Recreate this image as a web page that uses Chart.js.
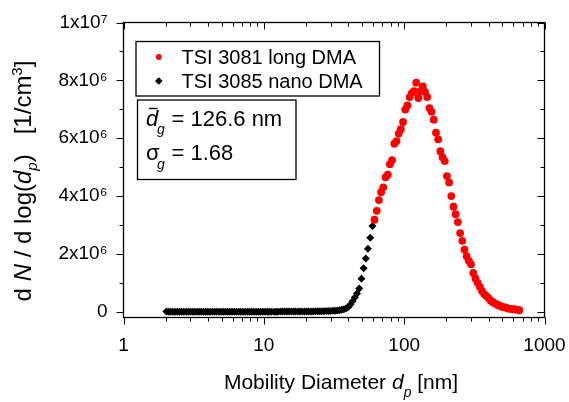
<!DOCTYPE html>
<html>
<head>
<meta charset="utf-8">
<script src="https://cdn.jsdelivr.net/npm/chart.js@4/dist/chart.umd.min.js"></script>
<style>
  html, body { margin: 0; padding: 0; background: #fff; }
  #wrap { width: 569px; height: 402px; }
</style>
</head>
<body>
<div id="wrap"><canvas id="chart" width="569" height="402"></canvas></div>
<script>
// Mobility diameters [nm] of the nano DMA scan (64 channels per decade)
const nanoDiameters = [
  2.02, 2.09, 2.17, 2.25, 2.33, 2.42, 2.50, 2.59, 2.69, 2.79, 2.89, 3.00, 3.11, 3.22, 3.34, 3.46,
  3.59, 3.72, 3.85, 3.99, 4.14, 4.29, 4.45, 4.61, 4.78, 4.96, 5.14, 5.33, 5.52, 5.72, 5.93, 6.15,
  6.38, 6.61, 6.85, 7.10, 7.37, 7.64, 7.91, 8.20, 8.51, 8.82, 9.14, 9.47, 9.82, 10.2, 10.6, 10.9,
  11.3, 11.8, 12.2, 12.6, 13.1, 13.6, 14.1, 14.6, 15.1, 15.7, 16.3, 16.8, 17.5, 18.1, 18.8, 19.5,
  20.2, 20.9, 21.7, 22.5, 23.3, 24.1, 25.0, 25.9, 26.9, 27.9, 28.9, 30.0, 31.1, 32.2, 33.4, 34.6,
  35.9, 37.2, 38.5, 40.0, 41.4, 42.9, 44.5, 46.1, 47.8, 49.6, 51.4, 53.3, 55.2, 57.3, 59.4
];
// dN/dlog(dp) [1/cm3] measured with the nano DMA
const nanoCounts = [
  3200, 2100, 1500, 2600, 1800, 1200, 2300, 900, 1700, 1100, 1900, 800, 1400, 1000, 1600, 700,
  1200, 900, 1300, 600, 1100, 800, 1000, 700, 1200, 900, 1100, 800, 1300, 1000, 1200, 900,
  1400, 1100, 1300, 1200, 1500, 1300, 1600, 1400, 1700, 1600, 1900, 1800, 2100, 2000, 2300, 2200,
  2600, 2500, 2900, 2800, 3200, 3300, 3600, 3800, 4100, 4400, 4800, 5200, 5700, 6300, 6900, 7600,
  8400, 9300, 10300, 11500, 12800, 14300, 16000, 18000, 20000, 22500, 25000, 28000, 32000, 37000, 43000, 52000,
  64000, 82000, 110000, 160000, 250000, 360000, 490000, 630000, 800000, 1140000, 1500000, 1840000, 2180000, 2560000, 2960000
];
// Mobility diameters [nm] of the long DMA scan
const longDiameters = [
  61.5, 63.8, 66.1, 68.5, 71.0, 73.7, 76.4, 79.1, 82.0, 85.1, 88.2, 91.4, 94.7, 98.2, 101.8, 105.5,
  109.4, 113.4, 117.6, 121.9, 126.3, 131.0, 135.8, 140.7, 145.9, 151.2, 156.8, 162.5, 168.5, 174.7, 181.1, 187.7,
  194.6, 201.7, 209.1, 216.7, 224.7, 232.9, 241.4, 250.3, 259.5, 269.0, 278.8, 289.0, 299.6, 310.6, 322.0, 333.8,
  346.0, 358.7, 371.8, 385.4, 399.5, 414.2, 429.4, 445.1, 461.4, 478.3, 495.8, 514.0, 532.8, 552.3, 572.5, 593.5,
  615.3, 637.8, 661.2
];
// dN/dlog(dp) [1/cm3] measured with the long DMA
const longCounts = [
  3.18e6, 3.49e6, 3.86e6, 4.13e6, 4.30e6, 4.65e6, 4.74e6, 5.10e6, 5.24e6, 5.81e6, 5.90e6, 6.16e6, 6.31e6, 6.56e6, 6.99e6, 7.13e6,
  7.42e6, 7.56e6, 7.63e6, 7.92e6, 7.39e6, 7.63e6, 7.79e6, 7.60e6, 7.42e6, 7.04e6, 6.91e6, 6.64e6, 6.19e6, 5.96e6, 5.55e6, 5.34e6,
  5.21e6, 4.69e6, 4.47e6, 4.00e6, 3.63e6, 3.37e6, 3.10e6, 2.72e6, 2.45e6, 2.15e6, 1.92e6, 1.76e6, 1.64e6, 1.34e6, 1.15e6, 1.00e6,
  0.86e6, 0.72e6, 0.61e6, 0.54e6, 0.47e6, 0.38e6, 0.33e6, 0.28e6, 0.24e6, 0.21e6, 0.17e6, 0.16e6, 0.14e6, 0.11e6, 0.10e6, 0.09e6,
  0.08e6, 0.07e6, 0.05e6
];

// Axis ticks
const xAllTicks = [1,2,3,4,5,6,7,8,9,10,20,30,40,50,60,70,80,90,100,200,300,400,500,600,700,800,900,1000];
const xMajorTicks = [1, 10, 100, 1000];
const xTickLabels = ['1', '10', '100', '1000'];
const yAllTicks = [0, 1e6, 2e6, 3e6, 4e6, 5e6, 6e6, 7e6, 8e6, 9e6, 1e7];
const yMajorTicks = [0, 2e6, 4e6, 6e6, 8e6, 1e7];
const yTickLabels = ['0', '2x10\u2076', '4x10\u2076', '6x10\u2076', '8x10\u2076', '1x10\u2077'];

// Fit parameters of the log-normal distribution
const geoMeanDiameter = '126.6';
const geoStdDev = '1.68';

const FONT = '"Liberation Sans", Arial, Helvetica, sans-serif';

function drawRuns(ctx, x, y, parts) {
  for (const p of parts) {
    ctx.font = (p.italic ? 'italic ' : '') + p.size + 'px ' + FONT;
    ctx.fillText(p.text, x, y + (p.dy || 0));
    x += ctx.measureText(p.text).width;
  }
  return x;
}
function runsWidth(ctx, parts) {
  let w = 0;
  for (const p of parts) {
    ctx.font = (p.italic ? 'italic ' : '') + p.size + 'px ' + FONT;
    w += ctx.measureText(p.text).width;
  }
  return w;
}

const decorations = {
  id: 'decorations',
  beforeDatasetsDraw(chart) {
    const { ctx, chartArea: a, scales: { x, y } } = chart;
    ctx.save();
    ctx.strokeStyle = '#000';
    ctx.lineWidth = 1;
    ctx.beginPath();
    for (const t of x.ticks) {
      const px = Math.round(x.getPixelForValue(t.value)) + 0.5;
      const len = xMajorTicks.includes(t.value) ? 7 : 4;
      ctx.moveTo(px, a.bottom); ctx.lineTo(px, a.bottom + len);
      ctx.moveTo(px, a.top); ctx.lineTo(px, a.top + len);
    }
    for (const t of y.ticks) {
      const py = Math.round(y.getPixelForValue(t.value)) + 0.5;
      const len = yMajorTicks.includes(t.value) ? 7 : 4;
      ctx.moveTo(a.left, py); ctx.lineTo(a.left - len, py);
      ctx.moveTo(a.right, py); ctx.lineTo(a.right - len, py);
    }
    ctx.stroke();
    ctx.lineWidth = 1.3;
    ctx.strokeRect(a.left, a.top, a.right - a.left, a.bottom - a.top);
    ctx.restore();
  },
  afterDatasetsDraw(chart) {
    const { ctx } = chart;
    ctx.save();
    ctx.fillStyle = '#000';
    ctx.strokeStyle = '#000';
    ctx.textBaseline = 'alphabetic';
    ctx.textAlign = 'left';

    // x axis title
    const xt = [
      { text: 'Mobility Diameter ', size: 21 },
      { text: 'd', size: 21, italic: true },
      { text: 'p', size: 14, italic: true, dy: 8 },
      { text: ' [nm]', size: 21 }
    ];
    const xw = runsWidth(ctx, xt);
    drawRuns(ctx, 341 - xw / 2, 389, xt);

    // y axis title (rotated)
    const yt = [
      { text: 'd ', size: 24 },
      { text: 'N', size: 24, italic: true },
      { text: ' / d log(', size: 24 },
      { text: 'd', size: 24, italic: true },
      { text: 'p', size: 15, italic: true, dy: 6 },
      { text: ')   [1/cm', size: 24 },
      { text: '3', size: 15, dy: -9 },
      { text: ']', size: 24 }
    ];
    const yw = runsWidth(ctx, yt);
    ctx.save();
    ctx.translate(31, 181);
    ctx.rotate(-Math.PI / 2);
    drawRuns(ctx, -yw / 2, 0, yt);
    ctx.restore();

    // legend
    ctx.lineWidth = 1.3;
    ctx.fillStyle = '#fff';
    ctx.fillRect(136, 41.5, 243.5, 54.5);
    ctx.strokeRect(136, 41.5, 243.5, 54.5);
    const ds = chart.data.datasets;
    const rows = [57, 81];
    ds.forEach((d, i) => {
      ctx.fillStyle = d.backgroundColor;
      Chart.helpers.drawPoint(ctx, {
        pointStyle: d.pointStyle,
        radius: d.pointStyle === 'circle' ? 2.9 : 3.8,
        borderWidth: 0
      }, 158.8, rows[i]);
      ctx.fillStyle = '#000';
      ctx.font = '20px ' + FONT;
      ctx.fillText(d.label, 181.5, rows[i] + 7);
    });

    // fit results box
    ctx.fillStyle = '#fff';
    ctx.fillRect(137.5, 100, 158.5, 79.5);
    ctx.strokeRect(137.5, 100, 158.5, 79.5);
    ctx.fillStyle = '#000';
    ctx.font = 'italic 22px ' + FONT;
    ctx.fillText('d', 146, 126);
    ctx.lineWidth = 1.4;
    ctx.beginPath();
    ctx.moveTo(149, 108.5); ctx.lineTo(157.5, 108.5);
    ctx.stroke();
    ctx.font = 'italic 14px ' + FONT;
    ctx.fillText('g', 157, 134);
    ctx.font = '22px ' + FONT;
    ctx.fillText('= ' + geoMeanDiameter + ' nm', 171.5, 126);
    ctx.fillText('\u03C3', 146, 160);
    ctx.font = 'italic 14px ' + FONT;
    ctx.fillText('g', 157, 169);
    ctx.font = '22px ' + FONT;
    ctx.fillText('= ' + geoStdDev, 171.5, 160);
    ctx.restore();
  }
};

new Chart(document.getElementById('chart'), {
  type: 'scatter',
  data: {
    datasets: [
      {
        label: 'TSI 3081 long DMA',
        data: longDiameters.map((d, i) => ({ x: d, y: longCounts[i] })),
        pointStyle: 'circle',
        pointRadius: 3.9,
        pointHoverRadius: 3.9,
        pointBorderWidth: 0,
        backgroundColor: '#ff0000',
        borderColor: '#ff0000'
      },
      {
        label: 'TSI 3085 nano DMA',
        data: nanoDiameters.map((d, i) => ({ x: d, y: nanoCounts[i] })),
        pointStyle: 'rectRot',
        pointRadius: 4,
        pointHoverRadius: 4,
        pointBorderWidth: 0,
        backgroundColor: '#000000',
        borderColor: '#000000'
      }
    ]
  },
  options: {
    responsive: false,
    animation: false,
    devicePixelRatio: 1,
    layout: { padding: { top: 22.5, right: 24.5, left: 0, bottom: 0 } },
    plugins: { legend: { display: false }, tooltip: { enabled: false } },
    scales: {
      x: {
        type: 'logarithmic',
        min: 1,
        max: 1000,
        afterBuildTicks: s => { s.ticks = xAllTicks.map(v => ({ value: v })); },
        afterFit: s => { s.height = 84.5; s.paddingLeft = 0; s.paddingRight = 0; },
        grid: { display: false, drawTicks: false },
        border: { display: false },
        ticks: {
          autoSkip: false,
          maxRotation: 0,
          padding: 17,
          color: '#000',
          font: { family: FONT, size: 19 },
          callback: v => {
            const k = xMajorTicks.indexOf(v);
            return k >= 0 ? xTickLabels[k] : '';
          }
        }
      },
      y: {
        type: 'linear',
        min: -2e5,
        max: 1e7,
        afterBuildTicks: s => { s.ticks = yAllTicks.map(v => ({ value: v })); },
        afterFit: s => { s.width = 123.5; s.paddingTop = 0; s.paddingBottom = 0; },
        grid: { display: false, drawTicks: false },
        border: { display: false },
        ticks: {
          autoSkip: false,
          padding: 16,
          color: '#000',
          font: { family: FONT, size: 19 },
          callback: v => {
            const k = yMajorTicks.indexOf(v);
            return k >= 0 ? yTickLabels[k] : '';
          }
        }
      }
    }
  },
  plugins: [decorations]
});
</script>
</body>
</html>
